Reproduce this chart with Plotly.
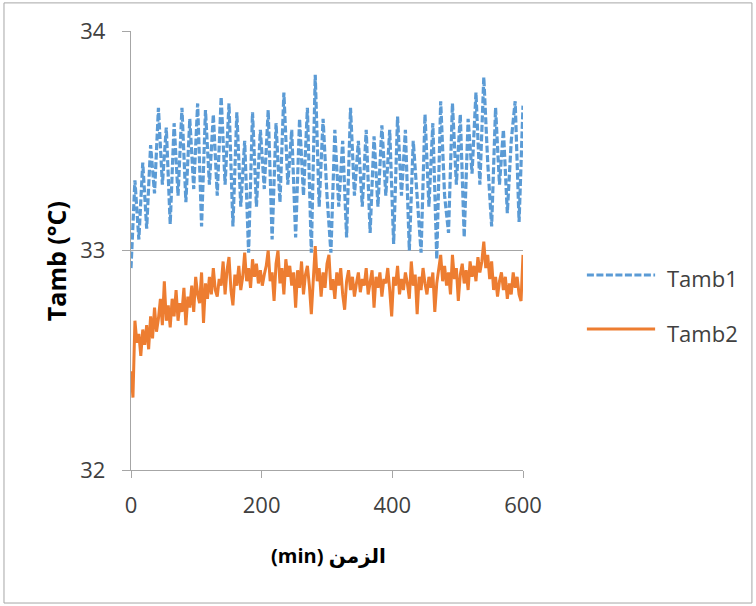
import plotly.graph_objects as go

# Tamb1 sampled every 6 min
t1 = list(range(0, 601, 6))
tamb1 = [32.92, 33.32, 33.05, 33.40, 33.10, 33.48, 33.26, 33.65, 33.30, 33.56,
         33.12, 33.58, 33.25, 33.65, 33.22, 33.60, 33.28, 33.67, 33.11, 33.64,
         33.30, 33.62, 33.25, 33.70, 33.30, 33.67, 33.11, 33.63, 33.20, 33.50,
         32.99, 33.63, 33.20, 33.55, 33.28, 33.64, 33.05, 33.58, 33.22, 33.72,
         33.30, 33.55, 33.06, 33.60, 33.25, 33.65, 32.99, 33.80, 33.20, 33.60,
         33.25, 32.99, 33.55, 33.20, 33.50, 33.06, 33.65, 33.25, 33.50, 33.20,
         33.55, 33.08, 33.52, 33.20, 33.57, 33.25, 33.55, 33.03, 33.61, 33.25,
         33.55, 33.00, 33.50, 33.22, 32.99, 33.62, 33.20, 33.58, 32.96, 33.68,
         33.25, 33.08, 33.67, 33.30, 33.62, 33.06, 33.60, 33.35, 33.72, 33.30,
         33.79, 33.40, 33.11, 33.65, 33.30, 33.55, 33.17, 33.50, 33.68, 33.13,
         33.66]

# Tamb2 sampled every 3 min
t2 = list(range(0, 601, 3))
tamb2 = [32.45, 32.33, 32.68, 32.58, 32.62, 32.52, 32.64, 32.57, 32.66, 32.55,
         32.70, 32.60, 32.74, 32.63, 32.69, 32.78, 32.66, 32.86, 32.68, 32.75,
         32.65, 32.78, 32.70, 32.82, 32.68, 32.76, 32.72, 32.83, 32.66, 32.79,
         32.74, 32.84, 32.72, 32.88, 32.80, 32.76, 32.90, 32.67, 32.85, 32.78,
         32.88, 32.80, 32.92, 32.82, 32.79, 32.87, 32.84, 32.95, 32.80, 32.91,
         32.97, 32.82, 32.75, 32.89, 32.84, 32.93, 32.82, 32.88, 32.99, 32.86,
         32.92, 32.83, 32.96, 32.88, 32.94, 32.85, 32.91, 32.84, 32.89, 32.93,
         33.00, 32.86, 32.90, 32.77, 32.94, 33.00, 32.85, 32.92, 32.80, 32.96,
         32.88, 32.93, 32.84, 32.90, 32.74, 32.91, 32.83, 32.95, 32.80, 32.89,
         32.93, 32.84, 32.71, 32.88, 33.02, 32.86, 32.92, 32.79, 32.90, 32.83,
         32.94, 32.98, 32.82, 32.87, 32.78, 32.90, 32.84, 32.92, 32.80, 32.73,
         32.86, 32.91, 32.82, 32.88, 32.79, 32.85, 32.90, 32.81, 32.87, 32.84,
         32.92, 32.80, 32.86, 32.91, 32.74, 32.88, 32.83, 32.90, 32.79, 32.87,
         32.85, 32.92, 32.82, 32.70, 32.88, 32.84, 32.93, 32.80, 32.87, 32.82,
         32.90, 32.85, 32.78, 32.95, 32.84, 32.89, 32.71, 32.88, 32.82, 32.92,
         32.85, 32.80, 32.88, 32.83, 32.90, 32.72, 32.85, 32.92, 32.98, 32.86,
         32.93, 32.84, 32.90, 32.80, 32.98, 32.87, 32.92, 32.77, 32.89, 32.94,
         32.85, 32.91, 32.82, 32.95, 32.88, 32.93, 32.86, 32.97, 32.90, 32.95,
         33.04, 32.92, 32.98, 32.87, 32.95, 32.82, 32.88, 32.79, 32.86, 32.90,
         32.82, 32.88, 32.78, 32.85, 32.80, 32.90, 32.83, 32.88, 32.80, 32.77,
         32.98]

series_names = ["Tamb1", "Tamb2"]
x_ticks = [0, 200, 400, 600]
y_ticks = [32, 33, 34]

FONT = "'Open Sans', 'DejaVu Sans', sans-serif"
BLUE = "#5b9bd5"
ORANGE = "#ed7d31"
BLUE_DASH = "7px,2.5px"

fig = go.Figure()
fig.add_trace(go.Scatter(x=t1, y=tamb1, mode="lines", name=series_names[0],
                         line=dict(color=BLUE, width=3.2, dash=BLUE_DASH)))
fig.add_trace(go.Scatter(x=t2, y=tamb2, mode="lines", name=series_names[1],
                         line=dict(color=ORANGE, width=3)))

# manual legend (longer line samples than plotly's built-in legend)
legend_shapes = [
    dict(type="line", xref="paper", yref="paper", x0=1.163, x1=1.337, y0=0.444, y1=0.444,
         line=dict(color=BLUE, width=3, dash=BLUE_DASH)),
    dict(type="line", xref="paper", yref="paper", x0=1.163, x1=1.337, y0=0.321, y1=0.321,
         line=dict(color=ORANGE, width=3)),
]
legend_ann = [
    dict(text=series_names[0], xref="paper", yref="paper", x=1.362, y=0.438,
         xanchor="left", yanchor="middle", showarrow=False,
         font=dict(size=22, color="#404040")),
    dict(text=series_names[1], xref="paper", yref="paper", x=1.362, y=0.313,
         xanchor="left", yanchor="middle", showarrow=False,
         font=dict(size=22, color="#404040")),
]
title_ann = [
    dict(text="<b>(min) الزمن</b>", xref="paper", yref="paper", x=0.505, y=-0.194,
         xanchor="center", yanchor="middle", showarrow=False,
         font=dict(size=20, color="black")),
    dict(text="<b>Tamb (°C)</b>", xref="paper", yref="paper", x=-0.191, y=0.476,
         xanchor="center", yanchor="middle", showarrow=False, textangle=-90,
         font=dict(size=25, color="black")),
]

fig.update_layout(
    width=756, height=606,
    margin=dict(l=131, r=233, t=31, b=136),
    paper_bgcolor="white", plot_bgcolor="white",
    font=dict(family=FONT, size=21, color="#404040"),
    showlegend=False,
    xaxis=dict(range=[0, 600], tickvals=x_ticks, showgrid=False,
               showline=True, linecolor="#a6a6a6", linewidth=1.3,
               ticks="outside", ticklen=7, tickcolor="#a6a6a6",
               zeroline=False, tickfont=dict(size=22), ticklabelstandoff=8),
    yaxis=dict(range=[32, 34], tickvals=y_ticks, showgrid=True,
               gridcolor="#a6a6a6", gridwidth=1.3,
               showline=True, linecolor="#a6a6a6", linewidth=1.3,
               ticks="outside", ticklen=8, tickcolor="#a6a6a6",
               zeroline=False, tickfont=dict(size=22), ticklabelstandoff=12),
    shapes=[dict(type="rect", xref="paper", yref="paper",
                 x0=-0.324, x1=1.584, y0=-0.303, y1=1.064,
                 line=dict(color="#a6a6a6", width=1), fillcolor="rgba(0,0,0,0)")]
           + legend_shapes,
    annotations=legend_ann + title_ann,
)

fig.write_html("out.html")
